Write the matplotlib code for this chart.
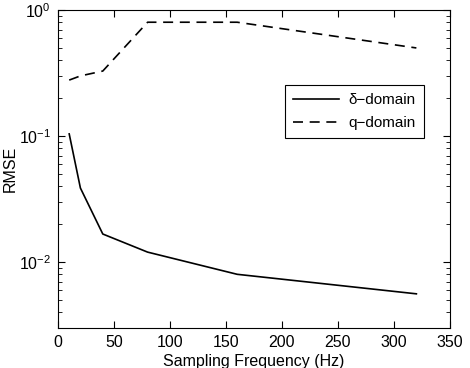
import matplotlib
matplotlib.use('Agg')
import matplotlib.pyplot as plt

plt.rcParams['font.family'] = ['Liberation Sans', 'DejaVu Sans']
plt.rcParams['mathtext.fontset'] = 'custom'
plt.rcParams['mathtext.rm'] = 'Liberation Sans'
plt.rcParams['mathtext.it'] = 'Liberation Sans:italic'

freq = [10, 20, 40, 80, 160, 320]
rmse_delta = [0.104, 0.0387, 0.0167, 0.012, 0.008, 0.0056]
rmse_q = [0.278, 0.30, 0.328, 0.80, 0.80, 0.50]

fig = plt.figure(figsize=(4.7, 3.68), dpi=100)
ax = fig.add_axes([0.1234, 0.1087, 0.8340, 0.8641])

ax.plot(freq, rmse_delta, 'k-', lw=1.2, label='\u03b4\u2212domain')
ax.plot(freq, rmse_q, 'k--', lw=1.2, dashes=(6, 4), label='q\u2212domain')

ax.set_yscale('log')
ax.set_xlim(0, 350)
ax.set_ylim(3e-3, 1)
ax.set_xticks([0, 50, 100, 150, 200, 250, 300, 350])
ax.tick_params(which='both', direction='in', top=True, right=True, labelsize=11.5, pad=5)
ax.tick_params(which='major', length=5)
ax.tick_params(which='minor', length=3)
ax.set_xlabel('Sampling Frequency (Hz)', fontsize=11.5, labelpad=3)
ax.set_ylabel('RMSE', fontsize=11.5, labelpad=1)

leg = ax.legend(loc='upper right', bbox_to_anchor=(0.934, 0.764), fontsize=11,
                fancybox=False, edgecolor='k', framealpha=1, handlelength=3.0,
                handletextpad=0.6, borderaxespad=0, borderpad=0.55, labelspacing=0.55)
leg.get_frame().set_linewidth(0.8)

fig.savefig('out.png', dpi=100)
